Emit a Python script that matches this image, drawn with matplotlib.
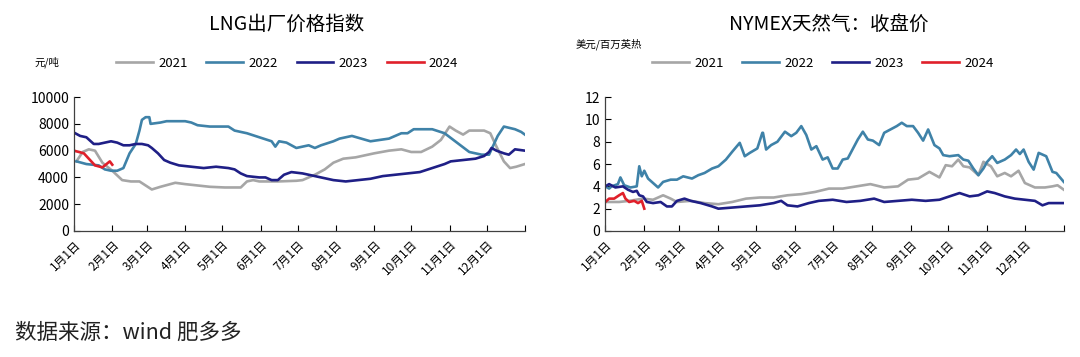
import matplotlib
matplotlib.use("Agg")
import matplotlib.pyplot as plt

plt.rcParams['font.family'] = ['Noto Sans CJK SC', 'DejaVu Sans']

# month ticks (day of year) and labels
month_days = [0, 31, 59, 90, 120, 151, 181, 212, 243, 273, 304, 334, 365]
month_labels = ['1月1日', '2月1日', '3月1日', '4月1日', '5月1日', '6月1日', '7月1日',
                '8月1日', '9月1日', '10月1日', '11月1日', '12月1日', '']

years = ['2021', '2022', '2023', '2024']
colors = ['#a6a6a6', '#3f82a8', '#1f1f86', '#e0202a']

# LNG ex-factory price index, yuan/ton
lng_2021_x = [2, 7, 12, 17, 23, 31, 39, 46, 53, 58, 63, 70, 82, 90, 100, 110, 122, 135, 140,
              145, 150, 165, 180, 185, 190, 195, 203, 210, 218, 228, 243, 255, 265, 273, 281,
              290, 297, 304, 309, 315, 320, 332, 337, 342, 348, 353, 358, 365]
lng_2021_y = [5200, 5900, 6100, 6000, 5100, 4500, 3800, 3700, 3700, 3400, 3100, 3300, 3600,
              3500, 3400, 3300, 3250, 3250, 3700, 3800, 3700, 3700, 3750, 3800, 4000, 4200,
              4600, 5100, 5400, 5500, 5800, 6000, 6100, 5900, 5900, 6300, 6800, 7800, 7500,
              7200, 7500, 7500, 7300, 6300, 5200, 4700, 4800, 5000]

lng_2022_x = [2, 10, 20, 25, 30, 35, 40, 45, 50, 53, 55, 58, 61, 62, 70, 75, 90, 95, 100, 110,
              125, 130, 140, 150, 160, 163, 166, 172, 180, 190, 195, 200, 210, 215, 225, 240,
              255, 265, 270, 275, 290, 300, 310, 320, 330, 336, 340, 343, 348, 357, 362, 365]
lng_2022_y = [5200, 5000, 4900, 4600, 4500, 4500, 4700, 5800, 6500, 7500, 8300, 8500, 8500,
              8000, 8100, 8200, 8200, 8100, 7900, 7800, 7800, 7500, 7300, 7000, 6700, 6300,
              6700, 6600, 6200, 6400, 6200, 6400, 6700, 6900, 7100, 6700, 6900, 7300, 7300,
              7600, 7600, 7300, 6600, 5900, 5700, 5700, 6500, 7100, 7800, 7600, 7400, 7200]

lng_2023_x = [1, 5, 10, 16, 20, 30, 35, 40, 45, 50, 55, 60, 63, 68, 73, 78, 85, 95, 105, 115,
              125, 130, 135, 140, 150, 155, 160, 165, 170, 176, 185, 190, 200, 210, 220, 230,
              240, 250, 260, 270, 280, 290, 300, 305, 315, 325, 332, 336, 338, 342, 348, 352,
              357, 365]
lng_2023_y = [7300, 7100, 7000, 6500, 6500, 6700, 6600, 6400, 6400, 6500, 6500, 6400, 6200,
              5800, 5300, 5100, 4900, 4800, 4700, 4800, 4700, 4600, 4300, 4100, 4000, 4000,
              3800, 3800, 4200, 4400, 4300, 4200, 4000, 3800, 3700, 3800, 3900, 4100, 4200,
              4300, 4400, 4700, 5000, 5200, 5300, 5400, 5600, 5900, 6200, 6000, 5800, 5700,
              6100, 6000]

lng_2024_x = [0, 8, 13, 17, 23, 27, 29, 31]
lng_2024_y = [6000, 5800, 5300, 4900, 4750, 5050, 5200, 4950]

# NYMEX natural gas close, USD/MMBtu
ng_2021_x = [0, 11, 19, 30, 38, 46, 52, 57, 68, 79, 90, 101, 112, 123, 134, 145, 156, 167,
             178, 189, 200, 211, 222, 233, 241, 249, 258, 266, 271, 276, 281, 285, 290, 297,
             301, 307, 312, 318, 323, 329, 334, 342, 350, 356, 360, 365]
ng_2021_y = [2.6, 2.6, 2.7, 2.9, 2.8, 3.2, 2.9, 2.6, 2.7, 2.5, 2.4, 2.6, 2.9, 3.0, 3.0, 3.2,
             3.3, 3.5, 3.8, 3.8, 4.0, 4.2, 3.9, 4.0, 4.6, 4.7, 5.3, 4.8, 5.9, 5.8, 6.4, 5.8,
             5.7, 5.0, 6.2, 5.8, 4.9, 5.2, 4.9, 5.4, 4.3, 3.9, 3.9, 4.0, 4.1, 3.7]

ng_2022_x = [0, 3, 5, 10, 12, 15, 20, 25, 27, 29, 31, 34, 38, 42, 46, 52, 57, 62, 69, 74,
             79, 85, 90, 96, 101, 107, 111, 115, 121, 125, 125.5, 128, 132, 137, 143, 148,
             152, 156, 160, 164, 168, 173, 177, 181, 185, 189, 193, 201, 205, 209, 213, 218,
             222, 227, 232, 236, 240, 245, 249, 253, 257, 262, 266, 269, 274, 281, 285, 289,
             293, 297, 301, 304, 308, 312, 318, 323, 327, 330, 333, 337, 341, 345, 351, 356,
             359, 365]
ng_2022_y = [4.0, 3.8, 4.0, 4.2, 4.8, 4.1, 3.9, 4.0, 5.8, 4.9, 5.4, 4.7, 4.3, 3.9, 4.4, 4.6,
             4.6, 4.9, 4.7, 5.0, 5.2, 5.6, 5.8, 6.4, 7.1, 7.9, 6.7, 7.0, 7.4, 8.8, 8.8, 7.3,
             7.7, 8.0, 8.9, 8.5, 8.8, 9.4, 8.6, 7.3, 7.6, 6.4, 6.6, 5.6, 5.6, 6.4, 6.5, 8.2,
             8.9, 8.2, 8.1, 7.7, 8.8, 9.1, 9.4, 9.7, 9.4, 9.4, 8.8, 8.1, 9.1, 7.7, 7.4, 6.8,
             6.7, 6.8, 6.4, 6.3, 5.6, 5.0, 5.6, 6.2, 6.7, 6.1, 6.4, 6.8, 7.3, 6.9, 7.3, 6.2,
             5.5, 7.0, 6.7, 5.3, 5.2, 4.4]

ng_2023_x = [0, 3, 8, 14, 18, 22, 25, 27, 30, 33, 38, 44, 49, 53, 57, 63, 68, 76, 85, 90,
             101, 112, 123, 134, 140, 145, 153, 162, 170, 181, 192, 203, 214, 222, 233, 244,
             255, 266, 274, 282, 290, 297, 304, 310, 318, 326, 334, 342, 348, 353, 359, 365]
ng_2023_y = [4.0, 4.2, 3.9, 4.0, 3.7, 3.5, 3.6, 3.2, 3.1, 2.6, 2.5, 2.6, 2.2, 2.2, 2.7, 2.9,
             2.7, 2.5, 2.2, 2.0, 2.1, 2.2, 2.3, 2.5, 2.7, 2.3, 2.2, 2.5, 2.7, 2.8, 2.6, 2.7,
             2.9, 2.6, 2.7, 2.8, 2.7, 2.8, 3.1, 3.4, 3.1, 3.2, 3.55, 3.4, 3.1, 2.9, 2.8, 2.7,
             2.3, 2.5, 2.5, 2.5]

ng_2024_x = [0, 3, 7, 11, 14, 16, 19, 23, 26, 29, 31]
ng_2024_y = [2.6, 2.9, 2.9, 3.2, 3.4, 2.9, 2.6, 2.7, 2.5, 2.7, 2.0]

lng_series = [(lng_2021_x, lng_2021_y), (lng_2022_x, lng_2022_y),
              (lng_2023_x, lng_2023_y), (lng_2024_x, lng_2024_y)]
ng_series = [(ng_2021_x, ng_2021_y), (ng_2022_x, ng_2022_y),
             (ng_2023_x, ng_2023_y), (ng_2024_x, ng_2024_y)]


def style_axes(ax, ymax, ystep):
    ax.set_xlim(0, 365)
    ax.set_ylim(0, ymax)
    ax.set_yticks(range(0, ymax + 1, ystep))
    ax.set_xticks(month_days)
    ax.set_xticklabels(month_labels, rotation=45, ha='right', va='top',
                       rotation_mode='anchor', fontsize=8.5)
    ax.tick_params(axis='y', labelsize=10, direction='in', length=4, width=0.8)
    ax.tick_params(axis='x', direction='in', length=4, width=0.8, pad=5)
    for side in ['top', 'right']:
        ax.spines[side].set_visible(False)
    for side in ['left', 'bottom']:
        ax.spines[side].set_color('#404040')
        ax.spines[side].set_linewidth(0.9)


fig = plt.figure(figsize=(10.8, 3.57), dpi=100)
ax1 = fig.add_axes([0.0685, 0.353, 0.4175, 0.375])
ax2 = fig.add_axes([0.5605, 0.353, 0.4245, 0.375])

for (xs, ys), year, color in zip(lng_series, years, colors):
    ax1.plot(xs, ys, color=color, lw=1.9, label=year)
for (xs, ys), year, color in zip(ng_series, years, colors):
    ax2.plot(xs, ys, color=color, lw=1.9, label=year)

style_axes(ax1, 10000, 2000)
style_axes(ax2, 12, 2)

fig.text(0.265, 0.932, 'LNG出厂价格指数', ha='center', va='center', fontsize=14)
fig.text(0.767, 0.932, 'NYMEX天然气：收盘价', ha='center', va='center', fontsize=14)
fig.text(0.032, 0.826, '元/吨', ha='left', va='center', fontsize=7.5)
fig.text(0.533, 0.876, '美元/百万英热', ha='left', va='center', fontsize=7.5)

for ax, cx in [(ax1, 0.266), (ax2, 0.762)]:
    fig.legend(handles=ax.get_lines(), loc='center', bbox_to_anchor=(cx, 0.822),
               ncol=4, frameon=False, fontsize=9.5, handlelength=2.8,
               columnspacing=1.4, handletextpad=0.4)

fig.text(0.014, 0.067, '数据来源：wind 肥多多', ha='left', va='center',
         fontsize=15.5, color='#222222')

fig.savefig('out.png', dpi=100, facecolor='white')
